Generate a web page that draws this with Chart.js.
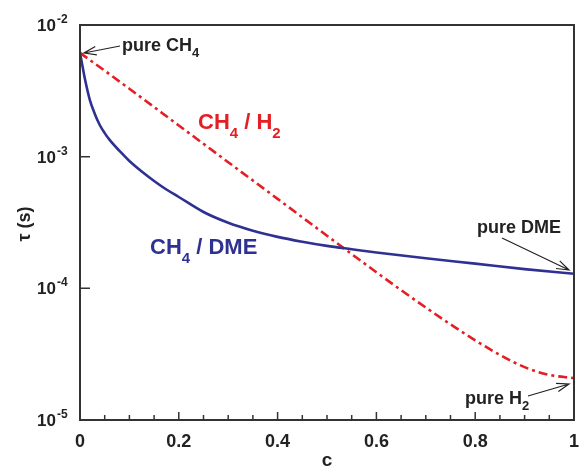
<!DOCTYPE html>
<html>
<head>
<meta charset="utf-8">
<script src="https://cdn.jsdelivr.net/npm/chart.js@4.4.1/dist/chart.umd.min.js"></script>
<style>
  html, body { margin: 0; padding: 0; background: #fff; }
</style>
</head>
<body>
<canvas id="tau-chart" width="579" height="468"></canvas>
<script>
// mixture fraction c and ignition time tau (s)
const cDme = [0, 0.005, 0.01, 0.02, 0.03, 0.04, 0.05, 0.06, 0.08, 0.1, 0.125, 0.15, 0.175, 0.2,
              0.25, 0.3, 0.35, 0.4, 0.45, 0.5, 0.55, 0.6, 0.7, 0.8, 0.9, 1.0];
const tauDme = [6.15e-3, 4.88e-3, 3.89e-3, 2.69e-3, 2.11e-3, 1.74e-3, 1.51e-3, 1.34e-3, 1.105e-3, 9.28e-4, 7.72e-4, 6.54e-4, 5.63e-4, 4.94e-4,
                3.80e-4, 3.15e-4, 2.74e-4, 2.46e-4, 2.26e-4, 2.10e-4, 1.98e-4, 1.87e-4, 1.69e-4, 1.54e-4, 1.40e-4, 1.29e-4];

const cH2 = [0, 0.1, 0.2, 0.3, 0.4, 0.5, 0.55, 0.6, 0.65, 0.7, 0.75, 0.8, 0.85, 0.9, 0.95, 1.0];
const tauH2 = [6.15e-3, 3.28e-3, 1.726e-3, 9.08e-4, 4.78e-4, 2.51e-4, 1.82e-4, 1.325e-4, 9.69e-5, 7.15e-5, 5.33e-5, 4.03e-5, 3.12e-5, 2.52e-5, 2.20e-5, 2.08e-5];

const xTicks = [0, 0.2, 0.4, 0.6, 0.8, 1];
const xTickLabels = ['0', '0.2', '0.4', '0.6', '0.8', '1'];
const yDecades = [-2, -3, -4, -5];

const BLUE = '#2e3192';
const RED = '#e31e24';
const AXIS = '#333';
const FONT = '"Liberation Sans", Arial, sans-serif';

function toPoints(xs, ys) {
    return xs.map((x, i) => ({ x: x, y: ys[i] }));
}

// text with sub/superscripts: parts = [[text, size, dy, gapAfter], ...]
function richText(ctx, parts, x, y, color) {
    ctx.fillStyle = color;
    ctx.textAlign = 'left';
    ctx.textBaseline = 'alphabetic';
    parts.forEach(p => {
        ctx.font = 'bold ' + p[1] + 'px ' + FONT;
        ctx.fillText(p[0], x, y + (p[2] || 0));
        x += ctx.measureText(p[0]).width + (p[3] || 0);
    });
}

function arrow(ctx, x1, y1, x2, y2) {
    const a = Math.atan2(y2 - y1, x2 - x1);
    const len = 13, spread = 0.33;
    ctx.strokeStyle = '#222';
    ctx.lineWidth = 1.2;
    ctx.beginPath();
    ctx.moveTo(x1, y1);
    ctx.lineTo(x2, y2);
    ctx.moveTo(x2 - len * Math.cos(a - spread), y2 - len * Math.sin(a - spread));
    ctx.lineTo(x2, y2);
    ctx.lineTo(x2 - len * Math.cos(a + spread), y2 - len * Math.sin(a + spread));
    ctx.stroke();
}

const framePlugin = {
    id: 'frame',
    afterDraw(chart) {
        const ctx = chart.ctx;
        const area = chart.chartArea;
        const xs = chart.scales.x;
        const ys = chart.scales.y;
        ctx.save();

        // box
        ctx.strokeStyle = AXIS;
        ctx.lineWidth = 2;
        ctx.strokeRect(area.left, area.top, area.right - area.left, area.bottom - area.top);

        // x ticks (inward)
        ctx.lineWidth = 1.5;
        ctx.beginPath();
        for (let i = 0; i <= 20; i++) {
            const px = xs.getPixelForValue(i * 0.05);
            const len = (i % 4 === 0) ? 8 : 5;
            ctx.moveTo(px, area.bottom);
            ctx.lineTo(px, area.bottom - len);
        }
        // y ticks (inward), major + minor
        yDecades.forEach(e => {
            const py = ys.getPixelForValue(Math.pow(10, e));
            ctx.moveTo(area.left, py);
            ctx.lineTo(area.left + 10, py);
            if (e > -2) {
                for (let m = 2; m <= 9; m++) {
                    const pm = ys.getPixelForValue(m * Math.pow(10, e));
                    ctx.moveTo(area.left, pm);
                    ctx.lineTo(area.left + 6, pm);
                }
            }
        });
        ctx.stroke();

        // x tick labels
        ctx.fillStyle = '#222';
        ctx.font = 'bold 18px ' + FONT;
        ctx.textAlign = 'center';
        ctx.textBaseline = 'alphabetic';
        xTicks.forEach((v, i) => {
            ctx.fillText(xTickLabels[i], xs.getPixelForValue(v), 447);
        });
        ctx.font = 'bold 19px ' + FONT;
        ctx.fillText('c', (area.left + area.right) / 2, 466);

        // y tick labels 10^e
        yDecades.forEach(e => {
            const py = ys.getPixelForValue(Math.pow(10, e));
            richText(ctx, [['10', 17, 0, 1], [String(e), 12, -8]], 37, py + 6, '#222');
        });

        // y title
        ctx.save();
        ctx.translate(30, 224);
        ctx.rotate(-Math.PI / 2);
        ctx.fillStyle = '#222';
        ctx.font = 'bold 18px ' + FONT;
        ctx.textAlign = 'center';
        ctx.fillText('\u03c4 (s)', 0, 0);
        ctx.restore();

        // curve labels
        richText(ctx, [['CH', 22], ['4', 15, 9], [' / H', 22], ['2', 15, 9]], 198, 129, RED);
        richText(ctx, [['CH', 22], ['4', 15, 9], [' / DME', 22]], 150, 254, BLUE);

        // end-point annotations
        richText(ctx, [['pure CH', 18], ['4', 13, 6]], 122, 51, '#222');
        arrow(ctx, 120, 46, 84, 53);
        richText(ctx, [['pure DME', 18]], 477, 233, '#222');
        arrow(ctx, 502, 238, 569, 270);
        richText(ctx, [['pure H', 18], ['2', 13, 6]], 465, 404, '#222');
        arrow(ctx, 528, 396, 569, 384);

        ctx.restore();
    }
};

new Chart(document.getElementById('tau-chart'), {
    type: 'line',
    data: {
        datasets: [{
            label: 'CH4 / DME',
            data: toPoints(cDme, tauDme),
            borderColor: BLUE,
            borderWidth: 2.6,
            pointRadius: 0,
            cubicInterpolationMode: 'monotone',
            fill: false
        }, {
            label: 'CH4 / H2',
            data: toPoints(cH2, tauH2),
            borderColor: RED,
            borderWidth: 2.6,
            borderDash: [9, 4, 3, 4],
            pointRadius: 0,
            cubicInterpolationMode: 'monotone',
            fill: false
        }]
    },
    options: {
        responsive: false,
        animation: false,
        layout: { padding: { left: 80, top: 25, right: 5, bottom: 48 } },
        plugins: { legend: { display: false }, tooltip: { enabled: false } },
        scales: {
            x: { type: 'linear', min: 0, max: 1, display: false },
            y: { type: 'logarithmic', min: 1e-5, max: 1e-2, display: false }
        }
    },
    plugins: [framePlugin]
});
</script>
</body>
</html>
